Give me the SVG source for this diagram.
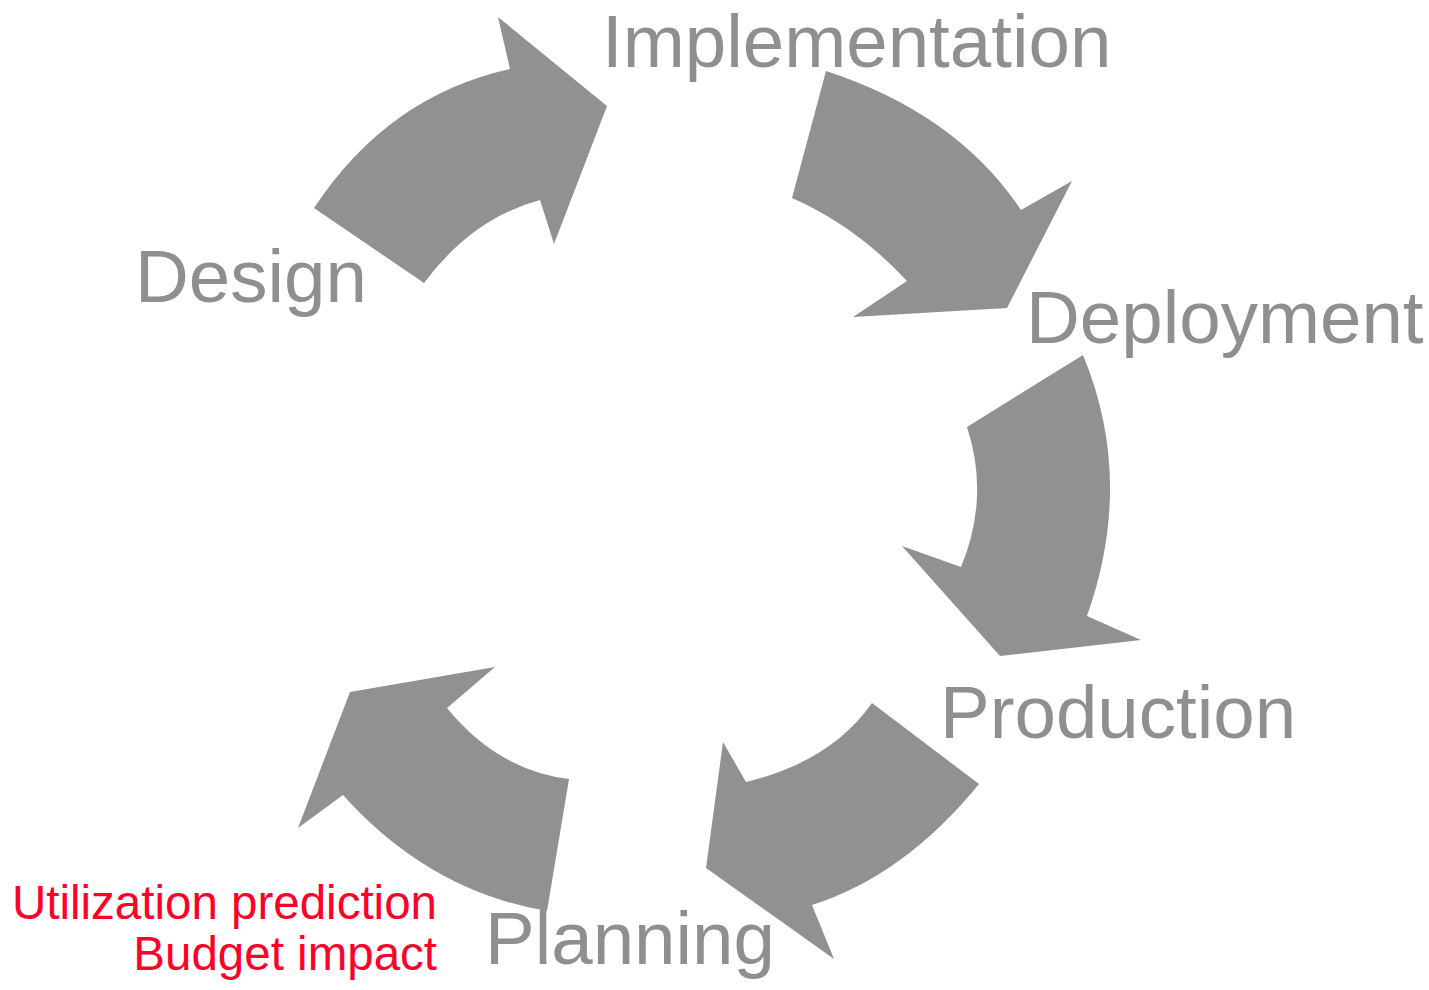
<svg xmlns="http://www.w3.org/2000/svg" width="1429" height="990" viewBox="0 0 1429 990">
<style>
.arrow{fill:#919191;stroke:none}
.lbl{font-family:"Liberation Sans",Arial,sans-serif;font-size:74.5px;fill:#8f8f8f}
.note{font-family:"Liberation Sans",Arial,sans-serif;font-size:47.5px;fill:#ff0029;text-anchor:end}
</style>
<rect width="1429" height="990" fill="#ffffff"/>
<g id="connectors">
<path class="arrow" d="M314,208 L424,283 Q472,218.5 540,200 L554,244 L607,106 L498,17 L510,69 Q388,96 314,208 Z"/>
<path class="arrow" d="M826,71 Q956.5,113.5 1021,210 L1072,181 L1007,308 L853,317 L907,281 Q856.5,226.5 792,198 Z"/>
<path class="arrow" d="M1083,355 Q1135,480.5 1087,616 L1141,640 L1000,656 L902,546 L961,567 Q990,497 967,427 Z"/>
<path class="arrow" d="M979,784 Q904.5,875.5 812,905 L834,959 L706,868 L723,742 L746,782 Q831,761.5 872,703 Z"/>
<path class="arrow" d="M547,911 Q429,891 343,795 L298,828 L350,692 L495,667 L447,708 Q498,770.5 569,779 Z"/>
</g>
<g id="implementation"><text class="lbl" x="602" y="67">Implementation</text></g>
<g id="deployment"><text class="lbl" x="1026" y="343">Deployment</text></g>
<g id="production"><text class="lbl" x="940" y="738">Production</text></g>
<g id="planning"><text class="lbl" x="485" y="964">Planning</text></g>
<g id="design"><text class="lbl" x="135" y="302">Design</text></g>
<g id="notes">
<text class="note" x="437" y="919">Utilization prediction</text>
<text class="note" x="437" y="970">Budget impact</text>
</g>
</svg>
